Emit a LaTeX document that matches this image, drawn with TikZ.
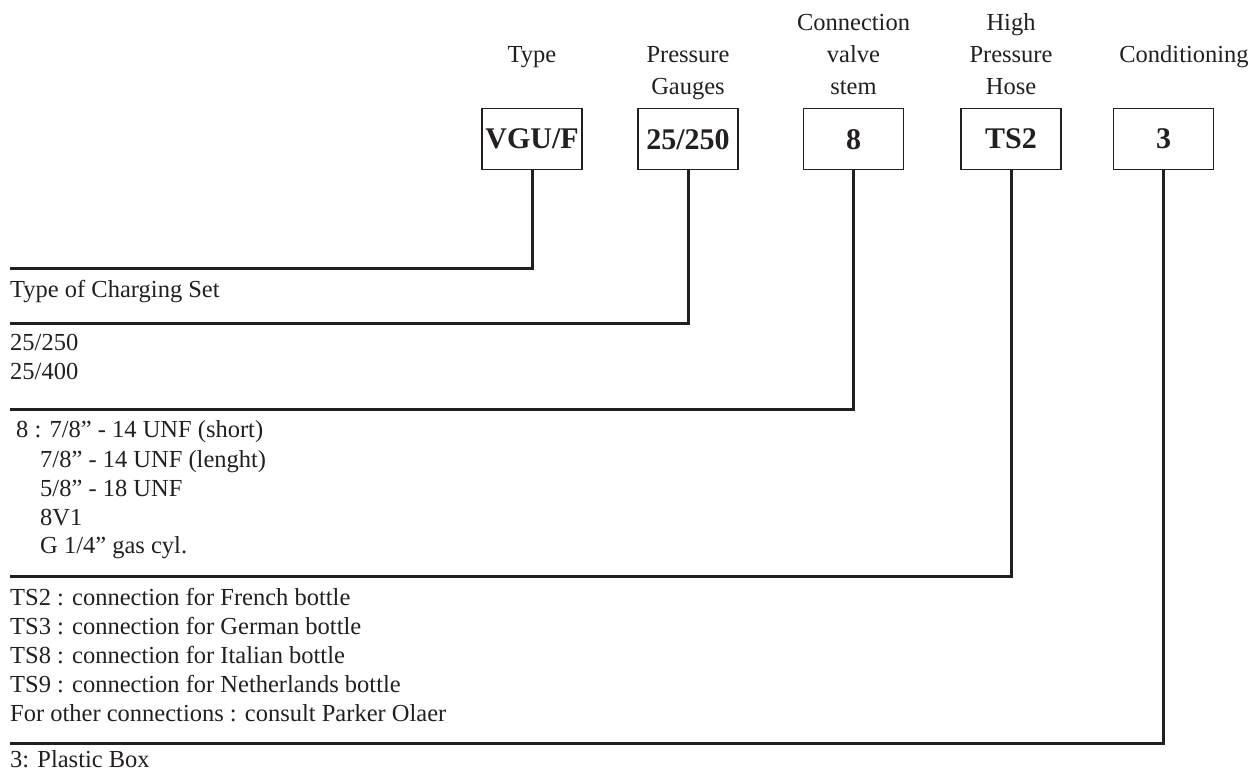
\documentclass[tikz,border=0pt]{standalone}
\usepackage{fontspec}
\setmainfont{Liberation Serif}
\definecolor{ink}{HTML}{231F20}
\begin{document}
\begin{tikzpicture}[x=1pt,y=-1pt,
  codebox/.style={draw=ink,line width=1.4pt,minimum width=100pt,minimum height=61pt,inner sep=0pt,anchor=north,font=\fontsize{30}{32}\selectfont\bfseries,text=ink},
  head/.style={anchor=base,inner sep=0pt,font=\fontsize{24.5}{29}\selectfont,text=ink},
  txt/.style={anchor=base west,inner sep=0pt,font=\fontsize{24.5}{29}\selectfont,text=ink},
  conn/.style={draw=ink,line width=3pt}]
\useasboundingbox (0,0) rectangle (1258,772);
% boxes
\node[codebox] (b1) at (532,108) {VGU/F};
\node[codebox] (b2) at (688,108) {25/250};
\node[codebox] (b3) at (853.5,108) {8};
\node[codebox] (b4) at (1011,108) {TS2};
\node[codebox] (b5) at (1163.5,108) {3};
% headings
\node[head] (h1) at (532,62) {Type};
\node[head] (h2a) at (688,62) {Pressure};
\node[head] (h2b) at (688,94) {Gauges};
\node[head] (h3a) at (853.5,30) {Connection};
\node[head] (h3b) at (853.5,62) {valve};
\node[head] (h3c) at (853.5,94) {stem};
\node[head] (h4a) at (1011,30) {High};
\node[head] (h4b) at (1011,62) {Pressure};
\node[head] (h4c) at (1011,94) {Hose};
\node[head] (h5) at (1184,62) {Conditioning};
% connector ends
\coordinate (e1) at (10,268);
\coordinate (e2) at (10,323);
\coordinate (e3) at (10,409);
\coordinate (e4) at (10,576);
\coordinate (e5) at (10,743);
\draw[conn] (b1.south) |- (e1);
\draw[conn] (b2.south) |- (e2);
\draw[conn] (b3.south) |- (e3);
\draw[conn] (b4.south) |- (e4);
\draw[conn] (b5.south) |- (e5);
% texts
\node[txt] (t1) at (10,297) {Type of Charging Set};
\node[txt] (t2a) at (10,350) {25/250};
\node[txt] (t2b) at (10,379) {25/400};
\node[txt] (t3a) at (16,437) {8 : 7/8” - 14 UNF (short)};
\node[txt] (t3b) at (40,467) {7/8” - 14 UNF (lenght)};
\node[txt] (t3c) at (40,496) {5/8” - 18 UNF};
\node[txt] (t3d) at (40,525) {8V1};
\node[txt] (t3e) at (40,553) {G 1/4” gas cyl.};
\node[txt] (t4a) at (10,605) {TS2 : connection for French bottle};
\node[txt] (t4b) at (10,634) {TS3 : connection for German bottle};
\node[txt] (t4c) at (10,663) {TS8 : connection for Italian bottle};
\node[txt] (t4d) at (10,692) {TS9 : connection for Netherlands bottle};
\node[txt] (t4e) at (10,721) {For other connections : consult Parker Olaer};
\node[txt] (t5) at (10,767) {3: Plastic Box};
\end{tikzpicture}
\end{document}
